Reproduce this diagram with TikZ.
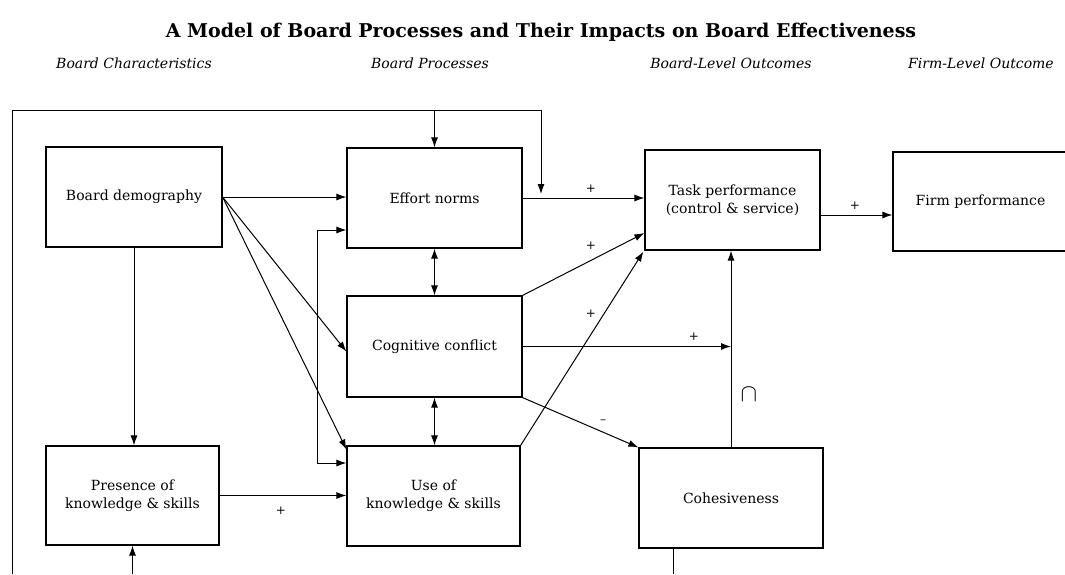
\documentclass[tikz,border=0pt]{standalone}
\usepackage{fontspec}
\setmainfont{DejaVu Serif}
\usetikzlibrary{arrows.meta}

\begin{document}
\begin{tikzpicture}[x=1pt,y=-1pt,
  line width=1pt,
  box/.style={draw, line width=1.2pt, inner sep=0pt, align=center,
    font=\fontsize{14}{18}\selectfont},
  conn/.style={line width=1pt, -{Latex[length=10pt,width=7pt]}},
  biconn/.style={line width=1pt, {Latex[length=10pt,width=7pt]}-{Latex[length=10pt,width=7pt]}},
  plain/.style={line width=1pt},
  sign/.style={font=\fontsize{12}{14}\selectfont, inner sep=0pt},
  head/.style={font=\itshape\fontsize{14}{16}\selectfont, inner sep=0pt}]

\useasboundingbox[fill=white] (0,0) rectangle (1065,574);

% title and column headings
\node[font=\bfseries\fontsize{19}{22}\selectfont] (title) at (541,32)
  {A Model of Board Processes and Their Impacts on Board Effectiveness};
\node[head] (h1) at (134,63) {Board Characteristics};
\node[head] (h2) at (430,63) {Board Processes};
\node[head] (h3) at (731,63) {Board-Level Outcomes};
\node[head] (h4) at (981,63) {Firm-Level Outcome};

% boxes
\node[box, minimum width=176pt, minimum height=100pt] (dem)  at (134,197)   {Board demography};
\node[box, minimum width=175pt, minimum height=100pt] (eff)  at (434.5,198) {Effort norms};
\node[box, minimum width=175pt, minimum height=100pt] (task) at (732.5,200) {Task performance\\(control \& service)};
\node[box, minimum width=175pt, minimum height=99pt]  (firm) at (980.5,201.5) {Firm performance};
\node[box, minimum width=175pt, minimum height=101pt] (cog)  at (434.5,346.5) {Cognitive conflict};
\node[box, minimum width=173pt, minimum height=99pt]  (pres) at (132.5,495.5) {Presence of\\knowledge \& skills};
\node[box, minimum width=173pt, minimum height=100pt] (use)  at (433.5,496) {Use of\\knowledge \& skills};
\node[box, minimum width=184pt, minimum height=100pt] (coh)  at (731,498)   {Cohesiveness};

% outer loop around the model
\coordinate (lb) at (12,574);
\coordinate (lt) at (12,110);
\coordinate (rt) at (541,110);
\coordinate (rd) at (541,194);
\coordinate (mt) at (eff.north |- lt);
\coordinate (pb) at (pres.south |- lb);
\coordinate (cb) at (673,574);
\coordinate (ct) at (cb |- coh.south);
\draw[plain] (lb) -- (lt) -- (rt);
\draw[conn] (rt) -- (rd);
\draw[conn] (mt) -- (eff.north);
\draw[conn] (pb) -- (pres.south);
\draw[plain] (ct) -- (cb);

% board demography
\draw[conn] (dem.east) -- (dem.east -| eff.west);
\draw[conn] (dem.east) -- ([yshift=-5pt]cog.west);
\draw[conn] (dem.east) -- ([yshift=-4pt]use.north west);
\draw[conn] (dem.south) -- (dem.south |- pres.north);

% presence to use
\draw[conn] (pres.east) -- (pres.east -| use.west);
\node[sign] (p1) at (281,511) {+};

% feedback between effort norms and use of knowledge
\draw[biconn] ([yshift=-32pt]eff.west) -- ++(-29,0) |- ([yshift=33pt]use.west);

% links among the processes
\draw[biconn] (eff.south) -- (cog.north);
\draw[biconn] (cog.south) -- (cog.south |- use.north);

% processes to task performance
\draw[conn] (eff.east) -- (eff.east -| task.west);
\node[sign] (p2) at (591,189) {+};
\draw[conn] (cog.north east) -- ([yshift=-33pt]task.west);
\node[sign] (p3) at (591,246) {+};
\draw[conn] (use.north east) -- ([xshift=-1pt,yshift=-1pt]task.south west);
\node[sign] (p4) at (591,314) {+};

% cohesiveness
\coordinate (jn) at (cog.east -| coh.north);
\draw[conn] (cog.east) -- (jn);
\node[sign] (p5) at (694,337) {+};
\draw[conn] (coh.north) -- (coh.north |- task.south);
\node[font=\fontsize{24}{26}\selectfont, inner sep=0pt] (cap) at (749,395) {$\cap$};
\draw[conn] (cog.south east) -- (coh.north west);
\node[sign] (m1) at (603,422) {\textendash};

% task to firm performance
\draw[conn] ([yshift=-15pt]task.east) -- ([yshift=-15pt]task.east -| firm.west);
\node[sign] (p6) at (855,206) {+};

\end{tikzpicture}
\end{document}
